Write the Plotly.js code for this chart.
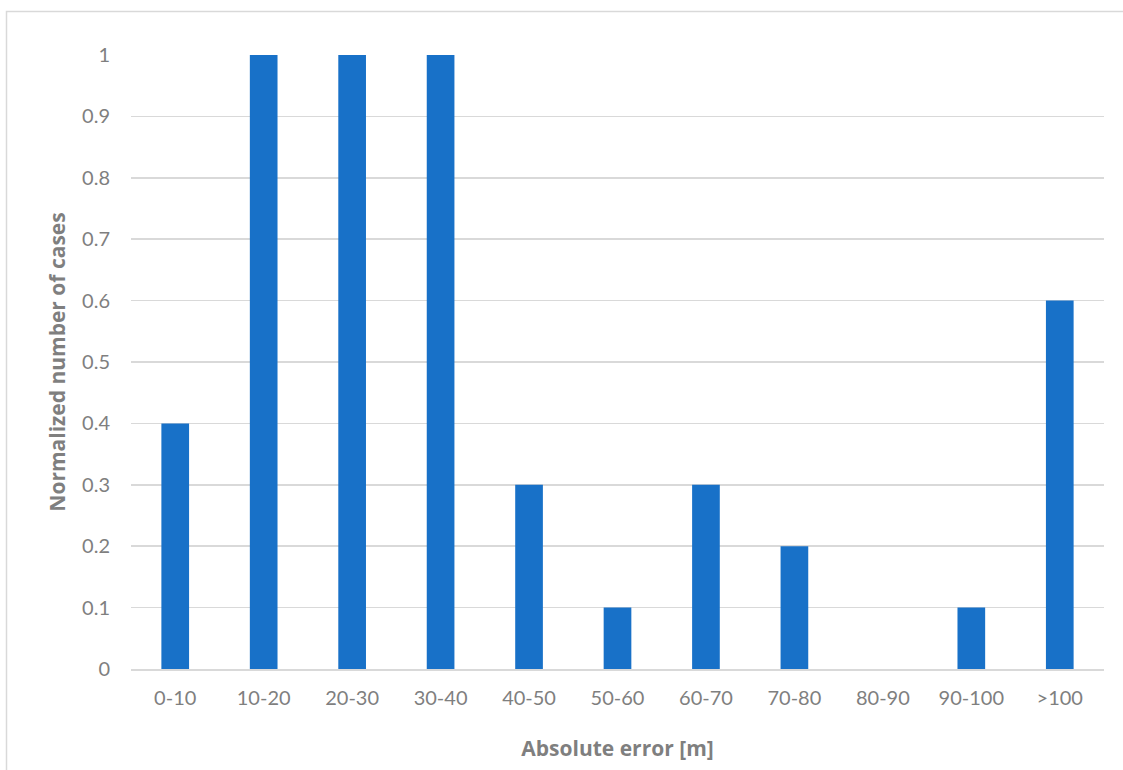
<!DOCTYPE html>
<html><head><meta charset="utf-8">
<script src="https://cdn.plot.ly/plotly-3.0.1.min.js"></script>
<style>html,body{margin:0;padding:0;background:#fff}#chart{width:1123px;height:770px}</style>
</head><body><div id="chart"></div>
<script>
const categories = ["0-10","10-20","20-30","30-40","40-50","50-60","60-70","70-80","80-90","90-100",">100"];
const values = [0.4,1,1,1,0.3,0.1,0.3,0.2,0,0.1,0.6];
const yTicks = [0,0.1,0.2,0.3,0.4,0.5,0.6,0.7,0.8,0.9,1];
const yTickLabels = ["0","0.1","0.2","0.3","0.4","0.5","0.6","0.7","0.8","0.9","1"];

const W = 1123, H = 770, ml = 131, mr = 19, mt = 55, mb = 101;
const pw = W - ml - mr, ph = H - mt - mb;
const font = "Lato, 'Open Sans', sans-serif";
const titleFont = "'Open Sans', Lato, sans-serif";

Plotly.newPlot("chart", [{
  type: "bar", x: categories, y: values,
  marker: {color: "#1871c8"}, hoverinfo: "x+y"
}], {
  width: W, height: H,
  margin: {l: ml, r: mr, t: mt, b: mb},
  paper_bgcolor: "#fff", plot_bgcolor: "#fff",
  bargap: 0.687,
  showlegend: false,
  font: {family: font, color: "#7f7f7f", size: 20},
  xaxis: {
    type: "category", showgrid: false, showline: true, linecolor: "#d9d9d9", linewidth: 2,
    ticks: "outside", ticklen: 10, tickcolor: "rgba(0,0,0,0)",
    tickfont: {size: 20, color: "#7f7f7f", family: font},
    title: {text: "<b>Absolute error [m]</b>", font: {size: 21, color: "#7f7f7f", family: titleFont}, standoff: 33}
  },
  yaxis: {
    range: [0, 1], tickvals: yTicks, ticktext: yTickLabels,
    showgrid: true, gridcolor: "#d9d9d9", gridwidth: 1.5, zeroline: false,
    ticks: "outside", ticklen: 16, tickcolor: "rgba(0,0,0,0)",
    tickfont: {size: 20, color: "#7f7f7f", family: font},
    title: {text: "<b>Normalized number of cases</b>", font: {size: 21, color: "#7f7f7f", family: titleFont}, standoff: 10}
  },
  shapes: [{
    type: "rect", xref: "paper", yref: "paper",
    x0: (6.5 - ml) / pw, x1: (W + 20 - ml) / pw,
    y0: (H - mb - (H + 20)) / ph, y1: (H - mb - 11.5) / ph,
    line: {color: "#d9d9d9", width: 1.5}, fillcolor: "rgba(0,0,0,0)", layer: "below"
  }]
}, {displayModeBar: false, staticPlot: true});
</script></body></html>
